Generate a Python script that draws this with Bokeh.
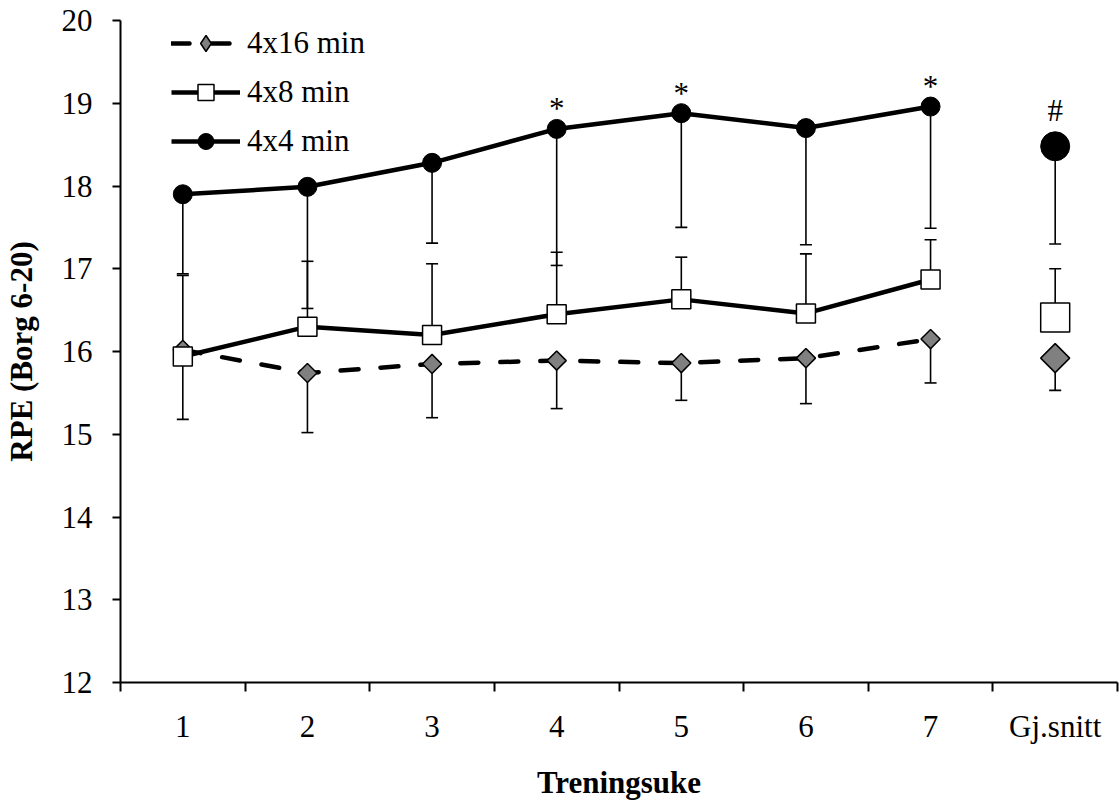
from bokeh.plotting import figure
from bokeh.models import Range1d, FixedTicker, Legend, LegendItem
from bokeh.embed import file_html
from bokeh.resources import INLINE
from bokeh.core.properties import value
import numpy as np

# ---------------- data ----------------
categories = ["1", "2", "3", "4", "5", "6", "7", "Gj.snitt"]
week_labels = categories[:7]

mean_4x16 = [16.02, 15.74, 15.85, 15.89, 15.86, 15.92, 16.15]
mean_4x8 = [15.94, 16.30, 16.20, 16.45, 16.63, 16.46, 16.87]
mean_4x4 = [17.90, 17.99, 18.28, 18.69, 18.88, 18.70, 18.96]

avg_4x16 = 15.92
avg_4x8 = 16.41
avg_4x4 = 18.48

# standard deviations (weeks 1-7 + average) and direction drawn
sd_4x16 = [0.90, 0.72, 0.65, 0.58, 0.45, 0.55, 0.53, 0.39]
dir_4x16 = [1, -1, -1, -1, -1, -1, -1, -1]
sd_4x8 = [0.76, 0.79, 0.86, 0.75, 0.51, 0.72, 0.48, 0.59]
dir_4x8 = [-1, 1, 1, 1, 1, 1, 1, 1]
sd_4x4 = [0.96, 1.47, 0.97, 1.65, 1.38, 1.41, 1.47, 1.18]
dir_4x4 = [-1, -1, -1, -1, -1, -1, -1, -1]

sig_weeks = ["4", "5", "7"]
sig_mark = "*"
avg_mark = "#"

legend_labels = ["4x16 min", "4x8 min", "4x4 min"]
x_title = "Treningsuke"
y_title = "RPE (Borg 6-20)"
y_ticks = [12, 13, 14, 15, 16, 17, 18, 19, 20]

# ---------------- figure ----------------
FONT = "Liberation Serif"
FS = "31px"

x_all = [i + 0.5 for i in range(len(categories))]
x_weeks = x_all[:7]
x_avg = x_all[7]

p = figure(width=1119, height=805, output_backend="svg", toolbar_location=None,
           x_range=Range1d(0, len(categories)), y_range=Range1d(y_ticks[0], y_ticks[-1]),
           min_border_left=119, min_border_right=2, min_border_top=20, min_border_bottom=123)
p.outline_line_color = None
p.grid.visible = False
p.background_fill_color = "white"
p.border_fill_color = "white"

# y axis
ya = p.yaxis[0]
ya.ticker = FixedTicker(ticks=y_ticks)
ya.major_tick_out = 8
ya.major_tick_in = 0
ya.minor_tick_out = 0
ya.minor_tick_in = 0
ya.axis_line_width = 2
ya.major_tick_line_width = 2
ya.axis_line_color = "black"
ya.major_tick_line_color = "black"
ya.major_label_text_font = FONT
ya.major_label_text_font_size = FS
ya.major_label_text_color = "black"
ya.major_label_standoff = 20
ya.axis_label = y_title
ya.axis_label_text_font = FONT
ya.axis_label_text_font_size = FS
ya.axis_label_text_font_style = "bold"
ya.axis_label_text_color = "black"
ya.axis_label_standoff = 20

# x axis: labels at category centres, ticks at boundaries
xa = p.xaxis[0]
xa.ticker = FixedTicker(ticks=x_all, minor_ticks=list(range(len(categories) + 1)))
xa.major_label_overrides = {x: lab for x, lab in zip(x_all, categories)}
xa.major_tick_line_color = None
xa.major_tick_out = 0
xa.major_tick_in = 0
xa.minor_tick_out = 9
xa.minor_tick_in = 0
xa.minor_tick_line_width = 2
xa.minor_tick_line_color = "black"
xa.axis_line_width = 2
xa.axis_line_color = "black"
xa.major_label_text_font = FONT
xa.major_label_text_font_size = FS
xa.major_label_text_color = "black"
xa.major_label_standoff = 17
xa.axis_label = x_title
xa.axis_label_text_font = FONT
xa.axis_label_text_font_size = FS
xa.axis_label_text_font_style = "bold"
xa.axis_label_text_color = "black"
xa.axis_label_standoff = 18

# ---------------- error bars ----------------
series = [
    (mean_4x16 + [avg_4x16], sd_4x16, dir_4x16),
    (mean_4x8 + [avg_4x8], sd_4x8, dir_4x8),
    (mean_4x4 + [avg_4x4], sd_4x4, dir_4x4),
]
for means, sds, dirs in series:
    ends = [m + d * s for m, s, d in zip(means, sds, dirs)]
    p.segment(x0=x_all, y0=means, x1=x_all, y1=ends, line_color="black", line_width=1.6)
    p.scatter(x=x_all, y=ends, marker="dash", size=12, line_color="black", line_width=1.6)

# ---------------- lines + markers ----------------
DIAMOND_ANGLE = np.pi / 4

l16 = p.line(x_weeks, mean_4x16, line_color="black", line_width=4.5, line_dash="18 22", line_cap="round")
l8 = p.line(x_weeks, mean_4x8, line_color="black", line_width=4.5)
l4 = p.line(x_weeks, mean_4x4, line_color="black", line_width=4.5)

# diamond glyph used for the legend swatch (legend swatches ignore marker angles);
# drawn first so the rotated squares below cover it in the plot
m16 = p.scatter(x_weeks, mean_4x16, marker="diamond", size=12,
                fill_color="#808080", line_color="black", line_width=1.5)
p.scatter(x_weeks, mean_4x16, marker="square", angle=DIAMOND_ANGLE, size=13.5,
          fill_color="#808080", line_color="black", line_width=1.5)
p.scatter([x_avg], [avg_4x16], marker="square", angle=DIAMOND_ANGLE, size=20.5,
          fill_color="#808080", line_color="black", line_width=1.5)

m8 = p.scatter(x_weeks, mean_4x8, marker="square", size=19,
               fill_color="white", line_color="black", line_width=1.5)
p.scatter([x_avg], [avg_4x8], marker="square", size=29,
          fill_color="white", line_color="black", line_width=1.5)

m4 = p.scatter(x_weeks, mean_4x4, marker="circle", size=19,
               fill_color="black", line_color="black", line_width=1)
p.scatter([x_avg], [avg_4x4], marker="circle", size=29,
          fill_color="black", line_color="black", line_width=1)

# significance marks
sig_x = [x_weeks[week_labels.index(w)] for w in sig_weeks]
sig_y = [mean_4x4[week_labels.index(w)] for w in sig_weeks]
p.text(x=sig_x, y=sig_y, text=[sig_mark] * len(sig_x), text_align="center",
       text_baseline="alphabetic", y_offset=-20, text_font=value(FONT),
       text_font_size=FS, text_color="black")
p.text(x=[x_avg], y=[avg_4x4], text=[avg_mark], text_align="center",
       text_baseline="alphabetic", y_offset=-36, text_font=value(FONT),
       text_font_size=FS, text_color="black")

# ---------------- legend ----------------
legend = Legend(items=[
    LegendItem(label=legend_labels[0], renderers=[l16, m16]),
    LegendItem(label=legend_labels[1], renderers=[l8, m8]),
    LegendItem(label=legend_labels[2], renderers=[l4, m4]),
], location=(51, 521))
legend.border_line_color = None
legend.background_fill_alpha = 0
legend.padding = 0
legend.margin = 0
legend.spacing = 9
legend.glyph_height = 40
legend.glyph_width = 69
legend.label_height = 30
legend.label_standoff = 7
legend.label_text_font = FONT
legend.label_text_font_size = FS
legend.label_text_color = "black"
p.add_layout(legend, "center")

open("out.html", "w").write(file_html(p, INLINE))
